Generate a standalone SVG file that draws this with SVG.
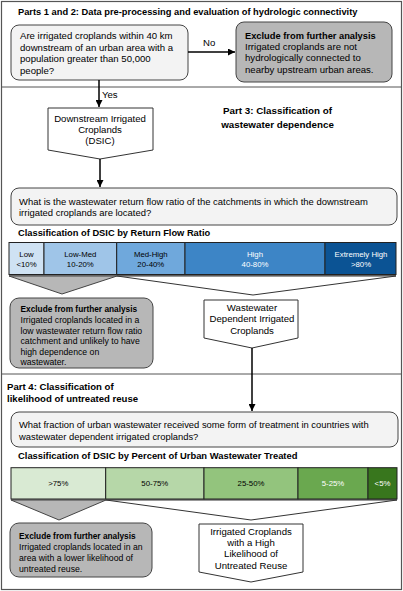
<svg xmlns="http://www.w3.org/2000/svg" width="403" height="591" viewBox="0 0 403 591">
<defs>
<marker id="ah" viewBox="0 0 10 10" refX="10" refY="5" markerWidth="7" markerHeight="7" markerUnits="userSpaceOnUse" orient="auto"><path d="M0,0 L10,5 L0,10 z" fill="#000"/></marker>
</defs>
<style>
text{font-family:"Liberation Sans",Arial,sans-serif;fill:#000}
.t{font-size:9.6px}
.s{font-size:8.7px}
.h{font-size:9.3px;font-weight:bold}
.hs{font-size:8.3px;font-weight:bold}
.b{font-size:7.8px}
.w{fill:#fff}
.q{fill:#f3f3f3;stroke:#444;stroke-width:1}
.x{fill:#b7b7b7;stroke:#444;stroke-width:1}
.p{fill:#fff;stroke:#333;stroke-width:1}
.seg{stroke:#222;stroke-width:1}
.con{stroke:#000;stroke-width:1.5;fill:none}
</style>
<rect x="0" y="0" width="403" height="591" fill="#fff"/>
<rect x="1.5" y="1.5" width="400" height="588" fill="none" stroke="#555" stroke-width="1.2"/>
<line x1="1.5" y1="87" x2="401.5" y2="87" stroke="#555" stroke-width="1"/>
<line x1="1.5" y1="374" x2="401.5" y2="374" stroke="#555" stroke-width="1"/>

<text class="h" x="18" y="14.5">Parts 1 and 2: Data pre-processing and evaluation of hydrologic connectivity</text>

<g id="q1">
<rect class="q" x="11" y="25" width="177" height="55" rx="8"/>
<text class="t" x="20" y="39">Are irrigated croplands within 40 km</text>
<text class="t" x="20" y="50.7">downstream of an urban area with a</text>
<text class="t" x="20" y="62.4">population greater than 50,000</text>
<text class="t" x="20" y="74.1">people?</text>
</g>

<g id="ex1">
<rect class="x" x="236" y="22" width="156" height="60" rx="8"/>
<text class="h" x="245" y="38.5">Exclude from further analysis</text>
<text class="t" x="245" y="50">Irrigated croplands are not</text>
<text class="t" x="245" y="61">hydrologically connected to</text>
<text class="t" x="245" y="72.5">nearby upstream urban areas.</text>
</g>

<g id="dsic">
<path class="p" d="M48,108 H153 V150 L100,159 L48,150 Z"/>
<text class="t" x="100" y="121.5" text-anchor="middle">Downstream Irrigated</text>
<text class="t" x="100" y="132.5" text-anchor="middle">Croplands</text>
<text class="t" x="100" y="143.5" text-anchor="middle">(DSIC)</text>
</g>

<g id="part3">
<text class="h" x="277.5" y="113.5" text-anchor="middle" style="font-size:9.8px">Part 3: Classification of</text>
<text class="h" x="277.5" y="127.5" text-anchor="middle" style="font-size:9.8px">wastewater dependence</text>
</g>

<g id="q2">
<rect class="q" x="11" y="188" width="386" height="37" rx="8"/>
<text class="t" x="19" y="205" style="font-size:9.45px">What is the wastewater return flow ratio of the catchments in which the downstream</text>
<text class="t" x="19" y="215.5" style="font-size:9.45px">irrigated croplands are located?</text>
</g>

<text class="h" x="18" y="235.5">Classification of DSIC by Return Flow Ratio</text>

<g id="bar1">
<rect x="9" y="243" width="387" height="33" fill="#888"/>
<rect class="seg" x="9" y="242.5" width="35" height="32" fill="#cfe2f3"/>
<rect class="seg" x="44" y="242.5" width="72.7" height="32" fill="#9fc5e8"/>
<rect class="seg" x="116.7" y="242.5" width="68.3" height="32" fill="#6fa8dc"/>
<rect class="seg" x="185" y="242.5" width="140" height="32" fill="#3d85c6"/>
<rect class="seg" x="325" y="242.5" width="71" height="32" fill="#0b5394"/>
<text class="b" x="26.5" y="257" text-anchor="middle">Low</text>
<text class="b" x="26.5" y="266.5" text-anchor="middle">&lt;10%</text>
<text class="b" x="80.3" y="257" text-anchor="middle">Low-Med</text>
<text class="b" x="80.3" y="266.5" text-anchor="middle">10-20%</text>
<text class="b" x="150.8" y="257" text-anchor="middle">Med-High</text>
<text class="b" x="150.8" y="266.5" text-anchor="middle">20-40%</text>
<text class="b w" x="255" y="257" text-anchor="middle">High</text>
<text class="b w" x="255" y="266.5" text-anchor="middle">40-80%</text>
<text class="b w" x="361" y="257" text-anchor="middle">Extremely High</text>
<text class="b w" x="361" y="266.5" text-anchor="middle">&gt;80%</text>
</g>

<g id="chev1">
<path d="M9,276 L117,276 L62,294 Z" fill="#b7b7b7" stroke="#444" stroke-width="1"/>
<path d="M117,276 L396,276 L253,295 Z" fill="#fff" stroke="#333" stroke-width="1"/>
</g>

<g id="ex2">
<rect class="x" x="10" y="298" width="143" height="70" rx="9"/>
<text class="hs" x="20.5" y="312">Exclude from further analysis</text>
<text class="s" x="20.5" y="323">Irrigated croplands located in a</text>
<text class="s" x="20.5" y="333.6">low wastewater return flow ratio</text>
<text class="s" x="20.5" y="344.2">catchment and unlikely to have</text>
<text class="s" x="20.5" y="354.8">high dependence on</text>
<text class="s" x="20.5" y="365.2">wastewater.</text>
</g>

<g id="wdic">
<path class="p" d="M204,300 H298 V338 L252,348 L204,338 Z"/>
<text class="t" x="252" y="310.5" text-anchor="middle">Wastewater</text>
<text class="t" x="252" y="322" text-anchor="middle">Dependent Irrigated</text>
<text class="t" x="252" y="333.5" text-anchor="middle">Croplands</text>
</g>

<g id="part4">
<text class="h" x="7" y="390" style="font-size:9.6px">Part 4: Classification of</text>
<text class="h" x="7" y="401.5" style="font-size:9.6px">likelihood of untreated reuse</text>
</g>

<g id="q3">
<rect class="q" x="11" y="412" width="387" height="35" rx="8"/>
<text class="t" x="19" y="428" style="font-size:9.4px">What fraction of urban wastewater received some form of treatment in countries with</text>
<text class="t" x="19" y="439.5" style="font-size:9.4px">wastewater dependent irrigated croplands?</text>
</g>

<text class="h" x="18" y="458.5" style="font-size:9.4px">Classification of DSIC by Percent of Urban Wastewater Treated</text>

<g id="bar2">
<rect x="11" y="468" width="386" height="32" fill="#888"/>
<rect class="seg" x="11" y="467.7" width="94.7" height="31.3" fill="#d9ead3"/>
<rect class="seg" x="105.7" y="467.7" width="98.3" height="31.3" fill="#b6d7a8"/>
<rect class="seg" x="204" y="467.7" width="94" height="31.3" fill="#93c47d"/>
<rect class="seg" x="298" y="467.7" width="70" height="31.3" fill="#6aa84f"/>
<rect class="seg" x="368" y="467.7" width="29" height="31.3" fill="#38761d"/>
<text class="b" x="58.3" y="486" text-anchor="middle">&gt;75%</text>
<text class="b" x="154.8" y="486" text-anchor="middle">50-75%</text>
<text class="b" x="251" y="486" text-anchor="middle">25-50%</text>
<text class="b w" x="333" y="486" text-anchor="middle">5-25%</text>
<text class="b w" x="382.5" y="486" text-anchor="middle">&lt;5%</text>
</g>

<g id="chev2">
<path d="M11,500 L106,500 L59,520 Z" fill="#b7b7b7" stroke="#444" stroke-width="1"/>
<path d="M106,500 L397,500 L251,520 Z" fill="#fff" stroke="#333" stroke-width="1"/>
</g>

<g id="ex3">
<rect class="x" x="10" y="523" width="142" height="54" rx="9"/>
<text class="hs" x="19" y="539">Exclude from further analysis</text>
<text class="s" x="19" y="550">Irrigated croplands located in an</text>
<text class="s" x="19" y="561">area with a lower likelihood of</text>
<text class="s" x="19" y="572">untreated reuse.</text>
</g>

<g id="final">
<path class="p" d="M199,524 H303 V572 L251,582 L199,572 Z"/>
<text class="t" x="251" y="534.5" text-anchor="middle">Irrigated Croplands</text>
<text class="t" x="251" y="545.8" text-anchor="middle">with a High</text>
<text class="t" x="251" y="557" text-anchor="middle">Likelihood of</text>
<text class="t" x="251" y="568.5" text-anchor="middle">Untreated Reuse</text>
</g>

<g id="connectors">
<line class="con" x1="188" y1="52" x2="235" y2="52" marker-end="url(#ah)"/>
<text class="t" x="203" y="46">No</text>
<line class="con" x1="99" y1="80" x2="99" y2="107" marker-end="url(#ah)"/>
<text class="t" x="102" y="98">Yes</text>
<line class="con" x1="100" y1="159" x2="100" y2="187" marker-end="url(#ah)"/>
<line class="con" x1="252" y1="348" x2="252" y2="411" marker-end="url(#ah)"/>
</g>
</svg>
